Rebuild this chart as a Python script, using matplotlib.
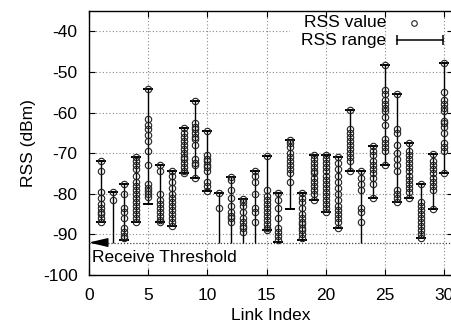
import numpy as np
import matplotlib
matplotlib.use("Agg")
import matplotlib.pyplot as plt
from matplotlib.patches import Rectangle

plt.rcParams['font.family'] = ['Liberation Sans', 'DejaVu Sans']
plt.rcParams['font.size'] = 12.5
plt.rcParams['axes.unicode_minus'] = False

# link index and the RSS range seen on each link (dBm)
links = list(range(1, 31))
range_high = [-72, -79.5, -77.5, -71, -54.2, -73, -74.3, -63.7, -57.2, -64.6,
              -79.8, -75.9, -81.2, -74.3, -70.7, -79.8, -66.8, -79.8, -70.5, -70.5,
              -70.9, -59.3, -74.4, -68.2, -48.3, -55.4, -67.6, -77.6, -70.3, -47.9]
range_low = [-87, -92, -91.5, -87, -82.5, -87, -88, -75, -76.2, -79.2,
             -92, -92, -92, -92, -89, -91.8, -83.8, -91.4, -81.5, -84.5,
             -88.5, -74.4, -92, -81, -72.8, -82, -81, -91, -83.8, -74.9]

# individual RSS samples per link
rss_values = [
    [-72, -74.5, -79.5, -81, -82.5, -83.5, -84.5, -85, -86, -87],
    [-79.5, -81.5],
    [-77.5, -80, -83.5, -84.5, -86, -88.5, -89.5, -90.5, -91],
    [-71, -72, -73, -74, -75.5, -77, -78, -79, -80, -81, -82, -83, -84, -85, -86, -87],
    [-54.2, -61.7, -63, -64.1, -65.5, -67, -69.4, -72.8, -77.6, -78.5, -79.3, -80, -80.8],
    [-73, -74.5, -80, -81.5, -82.5, -83.5, -84.5, -85.5, -86.5, -87],
    [-74.3, -75.5, -77, -78.5, -80, -81, -82, -83, -84, -85, -86, -87, -88],
    [-63.7, -65, -66, -67, -68, -69, -70, -71, -71.5, -72.5, -73.5, -74.5, -75],
    [-57.2, -62.5, -63.5, -64, -65, -66, -66.5, -68, -71.5, -72.5, -73, -76.2],
    [-64.6, -70.5, -71.5, -72, -73, -73.5, -74.5, -77, -78, -79.2],
    [-79.8, -83.5],
    [-75.9, -76.5, -79, -81, -83, -84.5, -85.5, -86, -87],
    [-81.2, -82, -83, -84.5, -86, -87, -88, -88.5, -89.5],
    [-74.3, -75.5, -77, -80, -83.5, -84.5, -87],
    [-70.7, -79, -80.5, -81.5, -82.5, -83.5, -84.5, -85.5, -86.5, -87.5, -88.5, -89],
    [-79.8, -81.5, -83.5, -86, -88.5, -89.5, -90.5, -91.5],
    [-66.8, -67.5, -68.5, -70, -71, -72, -73, -74, -75, -77],
    [-79.8, -81, -82, -83.5, -85, -86, -87, -87.5, -88.5, -89, -90, -91],
    [-70.5, -71.5, -72.5, -73.5, -74.5, -75, -76, -77, -78, -79, -80, -81.5],
    [-70.5, -71.5, -72.5, -73.5, -74.5, -75.5, -76.5, -77.5, -78.5, -79.5, -80.5, -81.5, -82.5, -83.5, -84.5],
    [-70.9, -72.5, -74, -75.5, -77, -78.5, -80, -81.5, -83, -84, -85, -86, -87, -88.5],
    [-59.3, -64, -65, -66, -67, -68, -69, -70, -71, -72, -74.4],
    [-74.4, -76, -77.5, -79, -83.5, -84.5, -87],
    [-68.2, -69.5, -70.5, -72, -73, -74, -75, -76, -77.5, -81],
    [-48.3, -54.5, -55.5, -57, -58, -59, -59.5, -61, -63, -66.5, -67.5, -68.5, -69.5, -72.8],
    [-55.4, -64, -65, -68, -70, -71.5, -73, -74.5, -79, -80, -81, -82],
    [-67.6, -69.5, -70.5, -71.5, -72.5, -73.5, -74.5, -75.5, -76.5, -77.5, -78.5, -79.5, -81],
    [-77.6, -82, -83, -84, -85, -86, -87, -88, -89, -90, -91],
    [-70.3, -72, -73, -74, -75, -76, -77, -78, -79, -83.8],
    [-47.9, -55, -57, -58, -59, -59.5, -62, -62.5, -63.5, -65, -67.5, -68.5, -69.5, -74.9],
]

threshold = -92
xticks = [0, 5, 10, 15, 20, 25, 30]
yticks = [-100, -90, -80, -70, -60, -50, -40]

fig = plt.figure(figsize=(4.52, 3.25), dpi=100)
ax = fig.add_axes([0.1965, 0.1538, 0.805, 0.8123])

# ranges
ax.vlines(links, range_low, range_high, color='black', lw=1.0, zorder=4)
ax.plot(links, range_high, ls='none', marker='_', ms=7, mew=1.4, color='black', zorder=4)
capped = [(l, lo) for l, lo in zip(links, range_low) if lo > threshold]
ax.plot([c[0] for c in capped], [c[1] for c in capped], ls='none', marker='_',
        ms=7, mew=1.4, color='black', zorder=4)

# samples
for l, vals in zip(links, rss_values):
    ax.plot([l] * len(vals), vals, ls='none', marker='o', ms=4.6, mfc='none',
            mec='#222222', mew=0.8, zorder=5)

# receive threshold
ax.axhline(threshold, color='#444444', lw=0.9, ls=(0, (1, 1.5)), zorder=3)
ax.annotate('', xy=(0, threshold), xytext=(1.35, threshold),
            arrowprops=dict(arrowstyle='-|>,head_length=1.15,head_width=0.27',
                            mutation_scale=10, color='black', shrinkA=0, shrinkB=0),
            zorder=6)
ax.text(0.27, -95.6, 'Receive Threshold', ha='left', va='center')

ax.set_xlim(0, 30.7)
ax.set_ylim(-100, -35)
ax.set_xticks(xticks)
ax.set_yticks(yticks)
ax.tick_params(direction='in', length=4, width=0.8, top=True, right=True)
ax.tick_params(axis='x', pad=9)
ax.tick_params(axis='y', pad=8)
ax.grid(True, color='#888888', lw=0.8, ls=(0, (1, 2)))
ax.set_axisbelow(True)
ax.yaxis.set_zorder(0.5)
ax.xaxis.set_zorder(0.9)
for s in ax.spines.values():
    s.set_linewidth(1.0)

ax.set_xlabel('Link Index', labelpad=4)
ax.set_ylabel('RSS (dBm)', labelpad=5)

# key
ax.add_patch(Rectangle((0.553, 0.86), 0.432, 0.14, transform=ax.transAxes,
                       facecolor='white', edgecolor='none', zorder=0.7))
ax.text(0.817, 0.955, 'RSS value', transform=ax.transAxes, ha='right', va='center')
ax.plot([0.895], [0.955], transform=ax.transAxes, marker='o', ms=4, mfc='none',
        mec='#222222', mew=0.8, ls='none')
ax.text(0.817, 0.890, 'RSS range', transform=ax.transAxes, ha='right', va='center')
ax.plot([0.847, 0.974], [0.890, 0.890], transform=ax.transAxes, color='black', lw=1.1,
        marker='|', ms=7, mew=1.1)

fig.savefig('out.png', dpi=100)
